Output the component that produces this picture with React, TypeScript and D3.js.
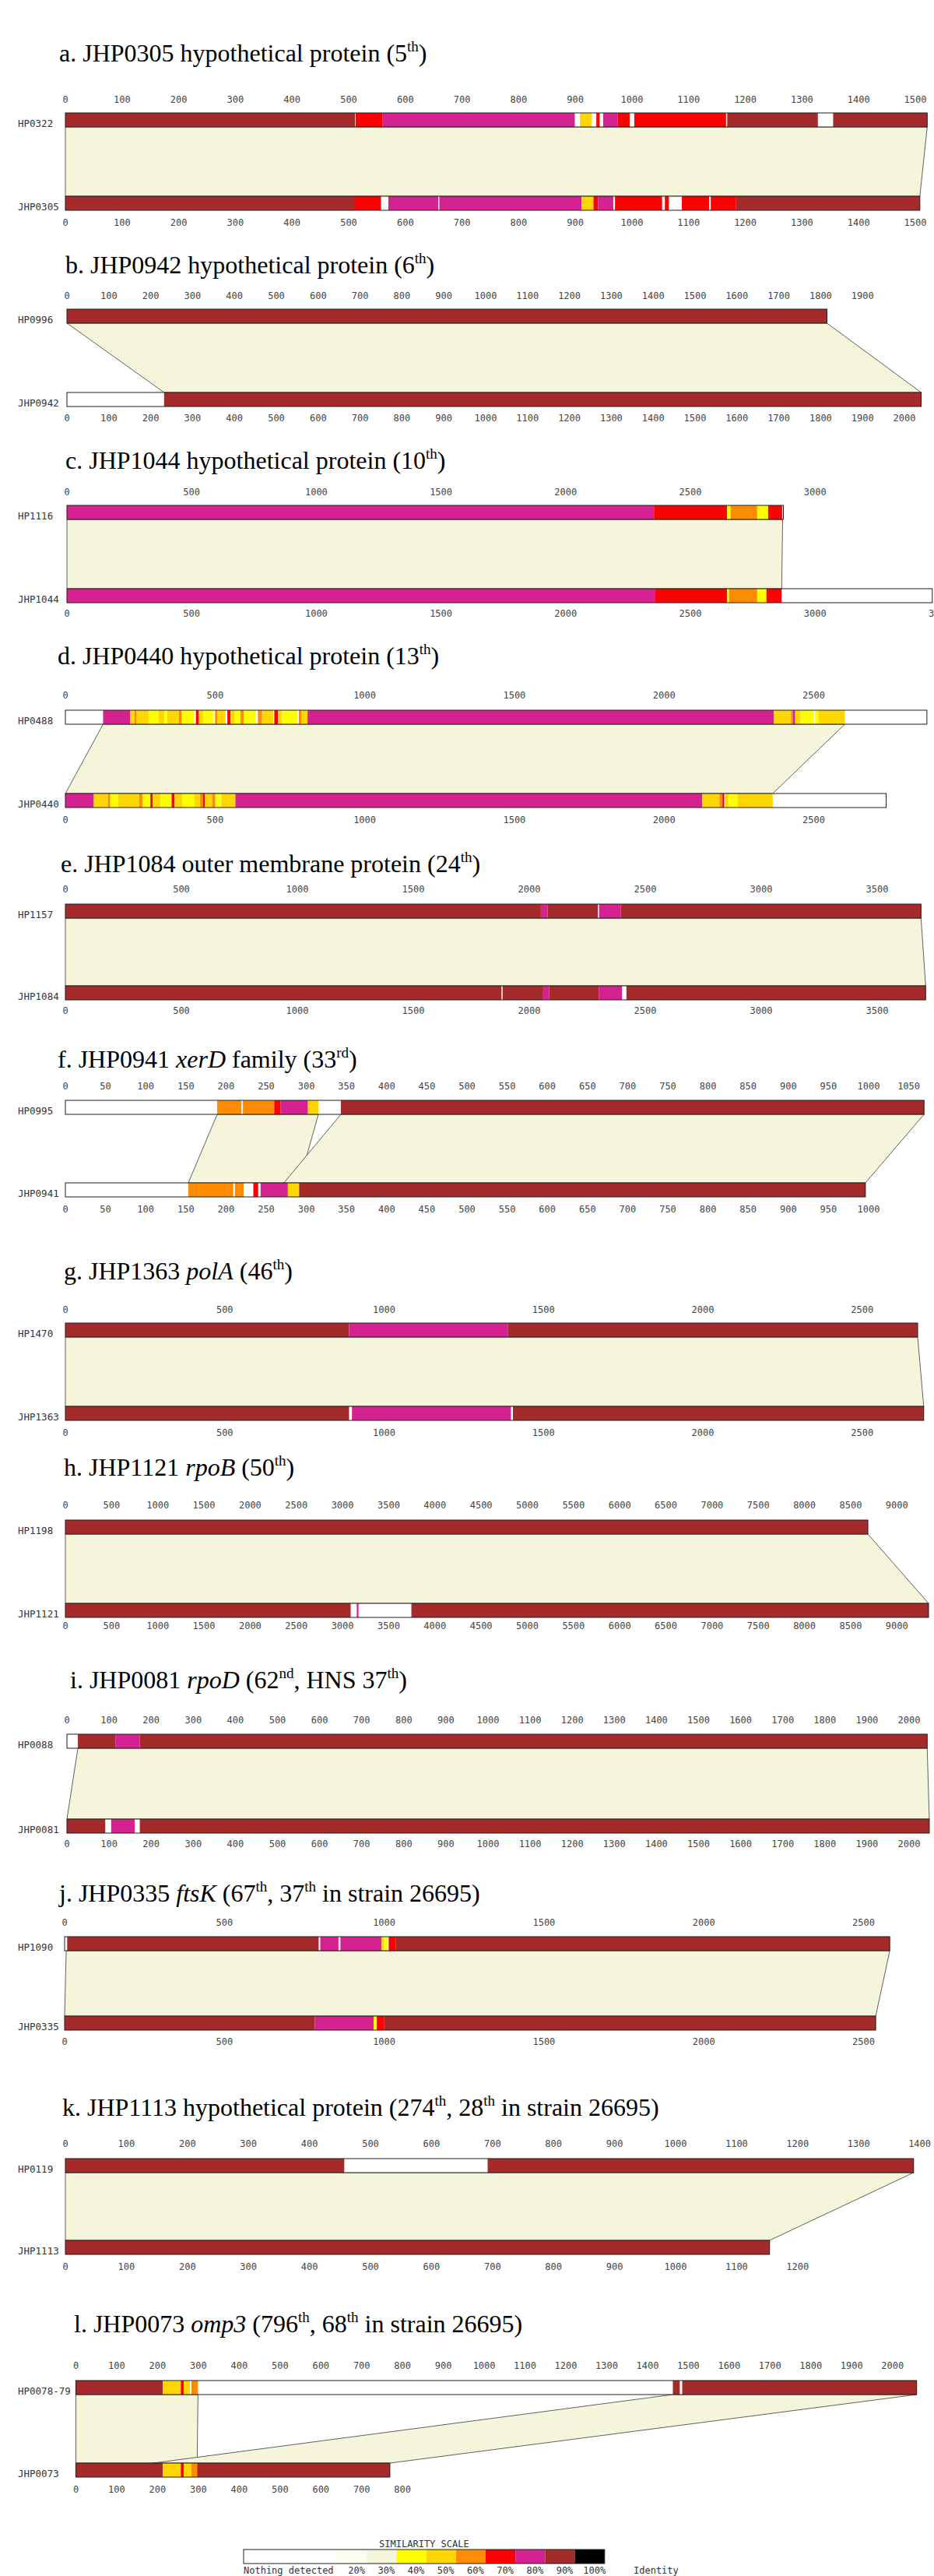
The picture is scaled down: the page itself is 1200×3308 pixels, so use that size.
import React from "react";
import * as d3 from "d3";

type Seg = [number, number, number];
type Link = [number, number, number, number];

// identity scale
const identityLevels = [0, 20, 30, 40, 50, 60, 70, 80, 90, 100];
const identityColors = ["#ffffff", "#fdfdee", "#f5f5dc", "#ffff00", "#ffd700", "#ff8c00", "#ff0000", "#d62290", "#a52a2a", "#000000"];
const scaleLabels = ["Nothing detected", "20%", "30%", "40%", "50%", "60%", "70%", "80%", "90%", "100%"];

const titles = [
  "a. JHP0305 hypothetical protein (5^th^)",
  "b. JHP0942 hypothetical protein (6^th^)",
  "c. JHP1044 hypothetical protein (10^th^)",
  "d. JHP0440 hypothetical protein (13^th^)",
  "e. JHP1084 outer membrane protein (24^th^)",
  "f. JHP0941 _xerD_ family (33^rd^)",
  "g. JHP1363 _polA_ (46^th^)",
  "h. JHP1121 _rpoB_ (50^th^)",
  "i. JHP0081 _rpoD_ (62^nd^, HNS 37^th^)",
  "j. JHP0335 _ftsK_ (67^th^, 37^th^ in strain 26695)",
  "k. JHP1113 hypothetical protein (274^th^, 28^th^ in strain 26695)",
  "l. JHP0073 _omp3_ (796^th^, 68^th^ in strain 26695)",
];

const topNames = ["HP0322", "HP0996", "HP1116", "HP0488", "HP1157", "HP0995", "HP1470", "HP1198", "HP0088", "HP1090", "HP0119", "HP0078-79"];
const bottomNames = ["JHP0305", "JHP0942", "JHP1044", "JHP0440", "JHP1084", "JHP0941", "JHP1363", "JHP1121", "JHP0081", "JHP0335", "JHP1113", "JHP0073"];
const topLengths = [1521, 1815, 2873, 2878, 3689, 1069, 2674, 8686, 2043, 2582, 1390, 2059];
const bottomLengths = [1508, 2040, 3470, 2742, 3709, 996, 2693, 9343, 2048, 2538, 1154, 769];

// tick labels
const ticksA = [0, 100, 200, 300, 400, 500, 600, 700, 800, 900, 1000, 1100, 1200, 1300, 1400, 1500];
const ticksBTop = [0, 100, 200, 300, 400, 500, 600, 700, 800, 900, 1000, 1100, 1200, 1300, 1400, 1500, 1600, 1700, 1800, 1900];
const ticksBBottom = [0, 100, 200, 300, 400, 500, 600, 700, 800, 900, 1000, 1100, 1200, 1300, 1400, 1500, 1600, 1700, 1800, 1900, 2000];
const ticksCTop = [0, 500, 1000, 1500, 2000, 2500, 3000];
const ticksCBottom = [0, 500, 1000, 1500, 2000, 2500, 3000, 3500];
const ticksD = [0, 500, 1000, 1500, 2000, 2500];
const ticksE = [0, 500, 1000, 1500, 2000, 2500, 3000, 3500];
const ticksFTop = [0, 50, 100, 150, 200, 250, 300, 350, 400, 450, 500, 550, 600, 650, 700, 750, 800, 850, 900, 950, 1000, 1050];
const ticksFBottom = [0, 50, 100, 150, 200, 250, 300, 350, 400, 450, 500, 550, 600, 650, 700, 750, 800, 850, 900, 950, 1000];
const ticksG = [0, 500, 1000, 1500, 2000, 2500];
const ticksH = [0, 500, 1000, 1500, 2000, 2500, 3000, 3500, 4000, 4500, 5000, 5500, 6000, 6500, 7000, 7500, 8000, 8500, 9000];
const ticksI = [0, 100, 200, 300, 400, 500, 600, 700, 800, 900, 1000, 1100, 1200, 1300, 1400, 1500, 1600, 1700, 1800, 1900, 2000];
const ticksJ = [0, 500, 1000, 1500, 2000, 2500];
const ticksKTop = [0, 100, 200, 300, 400, 500, 600, 700, 800, 900, 1000, 1100, 1200, 1300, 1400];
const ticksKBottom = [0, 100, 200, 300, 400, 500, 600, 700, 800, 900, 1000, 1100, 1200];
const ticksLTop = [0, 100, 200, 300, 400, 500, 600, 700, 800, 900, 1000, 1100, 1200, 1300, 1400, 1500, 1600, 1700, 1800, 1900, 2000];
const ticksLBottom = [0, 100, 200, 300, 400, 500, 600, 700, 800];

const topTicks = [ticksA, ticksBTop, ticksCTop, ticksD, ticksE, ticksFTop, ticksG, ticksH, ticksI, ticksJ, ticksKTop, ticksLTop];
const bottomTicks = [ticksA, ticksBBottom, ticksCBottom, ticksD, ticksE, ticksFBottom, ticksG, ticksH, ticksI, ticksJ, ticksKBottom, ticksLBottom];

// segments: [start, end, identity %]
const segATop: Seg[] = [[0, 511, 90], [512, 560, 70], [560, 899, 80], [908, 929, 50], [937, 943, 70], [949, 975, 80], [975, 996, 70], [1004, 1166, 70], [1168, 1328, 90], [1355, 1521, 90]];
const segABottom: Seg[] = [[0, 511, 90], [511, 557, 70], [570, 658, 80], [660, 911, 80], [911, 932, 50], [932, 940, 70], [940, 967, 80], [970, 1053, 70], [1058, 1065, 70], [1088, 1136, 70], [1139, 1183, 70], [1183, 1508, 90]];
const segBTop: Seg[] = [[0, 1815, 90]];
const segBBottom: Seg[] = [[232, 2040, 90]];
const segCTop: Seg[] = [[0, 2354, 80], [2354, 2647, 70], [2647, 2661, 40], [2661, 2768, 60], [2768, 2812, 40], [2812, 2868, 70]];
const segCBottom: Seg[] = [[0, 2357, 80], [2357, 2647, 70], [2647, 2655, 40], [2655, 2768, 60], [2768, 2805, 40], [2805, 2866, 70]];
const segDTop: Seg[] = [
  [126, 217, 80], [217, 231, 50], [231, 238, 60], [238, 278, 50], [278, 312, 40], [312, 330, 50], [330, 340, 40], [340, 379, 50],
  [379, 389, 60], [389, 430, 40], [436, 446, 70], [446, 460, 50], [460, 495, 40], [500, 508, 60], [508, 535, 50], [541, 552, 70],
  [552, 565, 50], [565, 585, 40], [585, 596, 60], [596, 636, 40], [643, 657, 60], [657, 694, 50], [698, 710, 70], [710, 724, 50],
  [724, 775, 40], [780, 788, 60], [788, 809, 50], [809, 2367, 80],
  [2367, 2424, 50], [2424, 2430, 60], [2430, 2438, 80], [2438, 2456, 50], [2456, 2500, 40], [2504, 2515, 40], [2515, 2604, 50],
];
const segDBottom: Seg[] = [
  [0, 95, 80], [95, 142, 50], [142, 150, 60], [150, 176, 40], [176, 247, 50], [247, 258, 60], [258, 284, 40], [284, 292, 70],
  [292, 318, 50], [318, 355, 40], [355, 365, 70], [365, 390, 50], [390, 430, 40], [430, 450, 50], [450, 460, 60], [460, 466, 70],
  [466, 491, 50], [491, 501, 60], [501, 521, 40], [521, 568, 50], [568, 2128, 80],
  [2128, 2185, 50], [2185, 2195, 60], [2195, 2201, 70], [2205, 2215, 50], [2215, 2245, 40], [2245, 2363, 50],
];
const segETop: Seg[] = [[0, 2050, 90], [2050, 2079, 80], [2079, 2296, 90], [2301, 2395, 80], [2395, 3689, 90]];
const segEBottom: Seg[] = [[0, 1880, 90], [1885, 2060, 90], [2060, 2086, 80], [2086, 2301, 90], [2301, 2400, 80], [2419, 3709, 90]];
const segFTop: Seg[] = [[189, 219, 60], [221, 260, 60], [260, 268, 70], [268, 302, 80], [302, 315, 50], [343, 1069, 90]];
const segFBottom: Seg[] = [[153, 209, 60], [211, 222, 60], [234, 240, 70], [243, 277, 80], [277, 291, 50], [291, 996, 90]];
const segGTop: Seg[] = [[0, 890, 90], [890, 1389, 80], [1389, 2674, 90]];
const segGBottom: Seg[] = [[0, 890, 90], [899, 1398, 80], [1404, 2693, 90]];
const segHTop: Seg[] = [[0, 8686, 90]];
const segHBottom: Seg[] = [[0, 3088, 90], [3154, 3173, 80], [3745, 9343, 90]];
const segITop: Seg[] = [[26, 115, 90], [115, 173, 80], [173, 2043, 90]];
const segIBottom: Seg[] = [[0, 91, 90], [105, 161, 80], [173, 2048, 90]];
const segJTop: Seg[] = [[8, 795, 90], [800, 857, 80], [863, 992, 80], [992, 999, 50], [999, 1011, 40], [1014, 1037, 70], [1037, 2582, 90]];
const segJBottom: Seg[] = [[0, 783, 90], [783, 967, 80], [967, 977, 40], [977, 999, 70], [999, 2538, 90]];
const segKTop: Seg[] = [[0, 457, 90], [692, 1390, 90]];
const segKBottom: Seg[] = [[0, 1154, 90]];
const segLTop: Seg[] = [[0, 213, 90], [213, 257, 50], [257, 264, 70], [264, 279, 50], [283, 299, 60], [1462, 1479, 90], [1485, 2059, 90]];
const segLBottom: Seg[] = [[0, 213, 90], [213, 257, 50], [257, 264, 70], [264, 283, 50], [283, 297, 60], [297, 769, 90]];

const topSegments = [segATop, segBTop, segCTop, segDTop, segETop, segFTop, segGTop, segHTop, segITop, segJTop, segKTop, segLTop];
const bottomSegments = [segABottom, segBBottom, segCBottom, segDBottom, segEBottom, segFBottom, segGBottom, segHBottom, segIBottom, segJBottom, segKBottom, segLBottom];

// aligned regions: [topStart, topEnd, bottomStart, bottomEnd]
const links: Link[][] = [
  [[0, 1521, 0, 1508]],
  [[0, 1815, 232, 2040]],
  [[0, 2870, 0, 2866]],
  [[126, 2604, 0, 2363]],
  [[0, 3689, 0, 3709]],
  [[189, 315, 153, 291], [343, 1069, 272, 996]],
  [[0, 2674, 0, 2693]],
  [[0, 8686, 0, 9343]],
  [[26, 2043, 0, 2048]],
  [[5, 2582, 0, 2538]],
  [[0, 1390, 0, 1154]],
  [[0, 299, 0, 297], [1462, 2059, 189, 769]],
];

// page layout (pixels)
const layout = [
  { x0: 84, k: 0.728, titleX: 76, titleY: 79, topAxisY: 128, topBarY: 145, bottomBarY: 252, bottomAxisY: 286 },
  { x0: 86, k: 0.538, titleX: 84, titleY: 351, topAxisY: 380, topBarY: 397, bottomBarY: 504, bottomAxisY: 537 },
  { x0: 86, k: 0.3204, titleX: 84, titleY: 602, topAxisY: 632, topBarY: 649, bottomBarY: 756, bottomAxisY: 788 },
  { x0: 84, k: 0.3846, titleX: 74, titleY: 853, topAxisY: 893, topBarY: 912, bottomBarY: 1019, bottomAxisY: 1053 },
  { x0: 84, k: 0.298, titleX: 78, titleY: 1120, topAxisY: 1142, topBarY: 1161, bottomBarY: 1266, bottomAxisY: 1298 },
  { x0: 84, k: 1.032, titleX: 74, titleY: 1371, topAxisY: 1395, topBarY: 1413, bottomBarY: 1519, bottomAxisY: 1553 },
  { x0: 84, k: 0.4095, titleX: 82, titleY: 1643, topAxisY: 1682, topBarY: 1699, bottomBarY: 1806, bottomAxisY: 1840 },
  { x0: 84, k: 0.1187, titleX: 82, titleY: 1895, topAxisY: 1933, topBarY: 1952, bottomBarY: 2059, bottomAxisY: 2088 },
  { x0: 86, k: 0.541, titleX: 90, titleY: 2168, topAxisY: 2209, topBarY: 2227, bottomBarY: 2336, bottomAxisY: 2368 },
  { x0: 83, k: 0.4106, titleX: 76, titleY: 2442, topAxisY: 2469, topBarY: 2487, bottomBarY: 2589, bottomAxisY: 2622 },
  { x0: 84, k: 0.784, titleX: 80, titleY: 2717, topAxisY: 2753, topBarY: 2772, bottomBarY: 2877, bottomAxisY: 2911 },
  { x0: 97.5, k: 0.5246, titleX: 95, titleY: 2995, topAxisY: 3038, topBarY: 3057, bottomBarY: 3163, bottomAxisY: 3197 },
];

const barH = 18;
const mono = "DejaVu Sans Mono, monospace";
const serif = "Liberation Serif, Times New Roman, serif";

const colorOf = d3.scaleOrdinal<number, string>().domain(identityLevels).range(identityColors);

function Title({ text, x, y }: { text: string; x: number; y: number }) {
  const parts = text.split(/(\^[^^]+\^|_[^_]+_)/).filter((p) => p.length);
  let raised = false;
  return (
    <text x={x} y={y} fontFamily={serif} fontSize={32} fill="#000">
      {parts.map((p, i) => {
        if (p.startsWith("^")) {
          raised = true;
          return (
            <tspan key={i} dy={-13} fontSize={19}>
              {p.slice(1, -1)}
            </tspan>
          );
        }
        const dy = raised ? 13 : 0;
        raised = false;
        if (p.startsWith("_")) {
          return (
            <tspan key={i} dy={dy} fontStyle="italic">
              {p.slice(1, -1)}
            </tspan>
          );
        }
        return (
          <tspan key={i} dy={dy}>
            {p}
          </tspan>
        );
      })}
    </text>
  );
}

function Bar({ x, y, len, segs }: { x: d3.ScaleLinear<number, number>; y: number; len: number; segs: Seg[] }) {
  return (
    <g>
      <rect x={x(0)} y={y} width={x(len) - x(0)} height={barH} fill="#fff" />
      {segs.map((s, i) => (
        <rect key={i} x={x(s[0])} y={y} width={Math.max(0.8, x(s[1]) - x(s[0]))} height={barH} fill={colorOf(s[2])} />
      ))}
      <rect x={x(0)} y={y} width={x(len) - x(0)} height={barH} fill="none" stroke="#1e1e1e" strokeWidth={1} />
    </g>
  );
}

function Panel({ i }: { i: number }) {
  const L = layout[i];
  const x = d3.scaleLinear().domain([0, 1000]).range([L.x0, L.x0 + 1000 * L.k]);
  const topBottom = L.topBarY + barH;
  return (
    <g>
      <Title text={titles[i]} x={L.titleX} y={L.titleY} />
      {topTicks[i].map((t) => (
        <text key={"t" + t} x={x(t)} y={L.topAxisY + 4} textAnchor="middle" fontFamily={mono} fontSize={12} fill="#444">
          {t}
        </text>
      ))}
      {links[i].map((l, j) => (
        <polygon
          key={j}
          points={[
            [x(l[0]), topBottom],
            [x(l[1]), topBottom],
            [x(l[3]), L.bottomBarY],
            [x(l[2]), L.bottomBarY],
          ]
            .map((p) => p.join(","))
            .join(" ")}
          fill="#f5f5dc"
          stroke="#3a3a3a"
          strokeWidth={0.8}
        />
      ))}
      <Bar x={x} y={L.topBarY} len={topLengths[i]} segs={topSegments[i]} />
      <Bar x={x} y={L.bottomBarY} len={bottomLengths[i]} segs={bottomSegments[i]} />
      <text x={23} y={topBottom} fontFamily={mono} fontSize={12.5} fill="#333">
        {topNames[i]}
      </text>
      <text x={23} y={L.bottomBarY + barH} fontFamily={mono} fontSize={12.5} fill="#333">
        {bottomNames[i]}
      </text>
      {bottomTicks[i].map((t) => (
        <text key={"b" + t} x={x(t)} y={L.bottomAxisY + 4} textAnchor="middle" fontFamily={mono} fontSize={12} fill="#444">
          {t}
        </text>
      ))}
    </g>
  );
}

function Legend() {
  const left = 313;
  const nothingW = 120;
  const cellW = 38.2;
  const y = 3274;
  const cells = identityLevels.map((lv, i) => {
    const x0 = i === 0 ? left : left + nothingW + (i - 1) * cellW;
    const w = i === 0 ? nothingW : cellW;
    return { lv, x0, w, label: scaleLabels[i] };
  });
  const right = left + nothingW + 9 * cellW;
  return (
    <g fontFamily={mono} fontSize={12} fill="#333">
      <text x={(left + right) / 2} y={3271} textAnchor="middle">
        SIMILARITY SCALE
      </text>
      {cells.map((c) => (
        <rect key={c.lv} x={c.x0} y={y} width={c.w} height={barH} fill={colorOf(c.lv)} />
      ))}
      <rect x={left} y={y} width={right - left} height={barH} fill="none" stroke="#1e1e1e" />
      {cells.map((c, i) => (
        <text key={"l" + c.lv} x={i === 0 ? left : c.x0 + c.w / 2 + 6} y={3305} textAnchor={i === 0 ? "start" : "middle"}>
          {c.label}
        </text>
      ))}
      <text x={814} y={3305}>
        Identity
      </text>
    </g>
  );
}

export default function App() {
  return (
    <svg width={1200} height={3308} style={{ position: "absolute", left: 0, top: 0, background: "#fff", display: "block" }}>
      <rect width={1200} height={3308} fill="#fff" />
      {layout.map((_, i) => (
        <Panel key={i} i={i} />
      ))}
      <Legend />
    </svg>
  );
}
